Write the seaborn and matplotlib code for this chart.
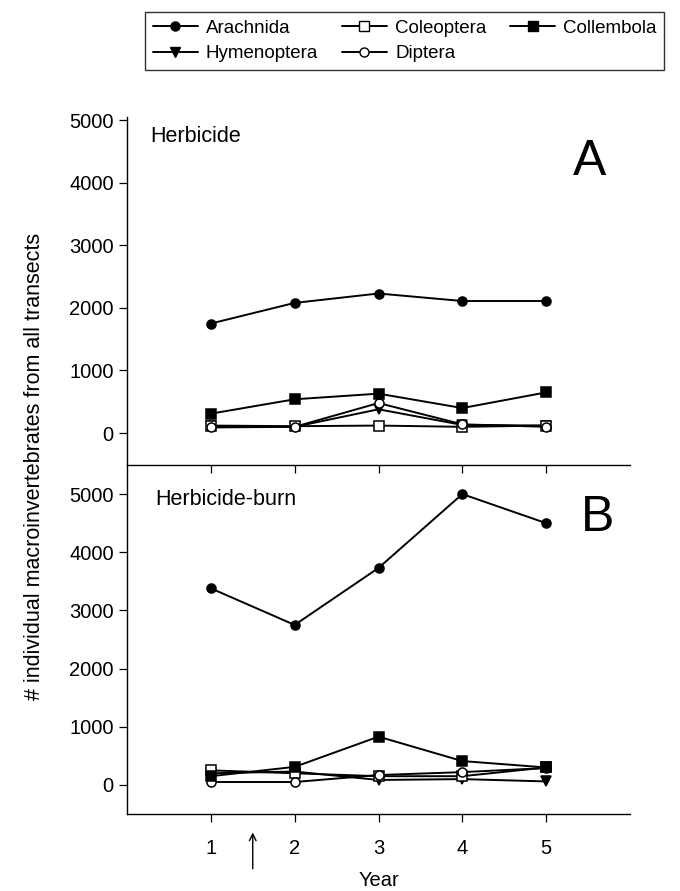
import matplotlib
matplotlib.use("Agg")
import matplotlib.pyplot as plt
import seaborn as sns
import pandas as pd
from matplotlib.lines import Line2D

sns.set_theme(style="ticks")
plt.rcParams['font.family'] = ['Liberation Sans', 'DejaVu Sans']
plt.rcParams.update({"text.color": "black", "axes.labelcolor": "black",
                     "xtick.color": "black", "ytick.color": "black",
                     "axes.edgecolor": "black"})

years = [1, 2, 3, 4, 5]
taxa = ["Arachnida", "Hymenoptera", "Coleoptera", "Diptera", "Collembola"]

# Panel A: Herbicide
herb_arachnida = [1750, 2080, 2230, 2110, 2110]
herb_hymenoptera = [110, 100, 380, 130, 120]
herb_coleoptera = [120, 110, 120, 100, 120]
herb_diptera = [90, 100, 480, 140, 100]
herb_collembola = [310, 540, 630, 400, 650]

# Panel B: Herbicide-burn
burn_arachnida = [3380, 2750, 3730, 5000, 4500]
burn_hymenoptera = [200, 230, 85, 100, 60]
burn_coleoptera = [250, 200, 150, 150, 300]
burn_diptera = [50, 50, 170, 220, 290]
burn_collembola = [150, 310, 830, 410, 300]

panels = {
    "Herbicide": [herb_arachnida, herb_hymenoptera, herb_coleoptera, herb_diptera, herb_collembola],
    "Herbicide-burn": [burn_arachnida, burn_hymenoptera, burn_coleoptera, burn_diptera, burn_collembola],
}

styles = {
    "Arachnida": dict(marker="o", markerfacecolor="black"),
    "Hymenoptera": dict(marker="v", markerfacecolor="black"),
    "Coleoptera": dict(marker="s", markerfacecolor="white"),
    "Diptera": dict(marker="o", markerfacecolor="white"),
    "Collembola": dict(marker="s", markerfacecolor="black"),
}

fig = plt.figure(figsize=(6.8, 8.91), dpi=100)
left, width = 127 / 680, (630 - 127) / 680
axB = fig.add_axes([left, 1 - 814 / 891, width, (814 - 465) / 891])
axA = fig.add_axes([left, 1 - 465 / 891, width, (465 - 117) / 891])
axA.patch.set_visible(False)
axB.patch.set_visible(False)

for ax, (name, series) in zip([axA, axB], panels.items()):
    for taxon, vals in zip(taxa, series):
        df = pd.DataFrame({"Year": years, "Count": vals})
        sns.lineplot(data=df, x="Year", y="Count", ax=ax, color="black", lw=1.4,
                     markersize=6.5, markeredgecolor="black", markeredgewidth=1.1,
                     **styles[taxon])
    ax.set_xlim(0, 6)
    ax.set_xticks(years)
    ax.set_yticks([0, 1000, 2000, 3000, 4000, 5000])
    ax.set_xlabel("")
    ax.set_ylabel("")
    ax.spines["right"].set_visible(False)
    ax.tick_params(direction="out", length=6, width=0.9, colors="black", labelsize=14.5)
    for s in ax.spines.values():
        s.set_color("black")
        s.set_linewidth(1.0)

axA.set_ylim(-510, 5050)
axB.set_ylim(-500, 5500)
axA.spines["top"].set_visible(False)
axB.spines["top"].set_visible(False)
axA.tick_params(axis="x", labelbottom=False)
axB.set_xticklabels([str(y) for y in years], fontsize=14.5)
axB.tick_params(axis="x", pad=12)
axB.set_xlabel("Year", fontsize=14.5, labelpad=9)

axA.text(23 / 503, 1 - (137 - 117) / 348, "Herbicide", transform=axA.transAxes,
         fontsize=15.5, va="center")
axA.text((590 - 127) / 503, 1 - (162 - 117) / 348, "A", transform=axA.transAxes,
         fontsize=36, ha="center", va="center")
axB.text(28 / 503, 1 - (500 - 465) / 349, "Herbicide-burn", transform=axB.transAxes,
         fontsize=15.5, va="center")
axB.text((598 - 127) / 503, 1 - (518 - 465) / 349, "B", transform=axB.transAxes,
         fontsize=36, ha="center", va="center")

fig.text(35 / 680, 1 - 466 / 891, "# individual macroinvertebrates from all transects",
         rotation=90, ha="center", va="center", fontsize=15.5)

# treatment arrow below the axis
axB.annotate("", xy=(1.5, -0.045), xytext=(1.5, -0.165), xycoords=("data", "axes fraction"),
             textcoords=("data", "axes fraction"),
             arrowprops=dict(arrowstyle="->", color="black", lw=1.0), annotation_clip=False)

handles = [Line2D([0], [0], color="black", lw=1.4, markersize=6.5, markeredgecolor="black",
                  **styles[t]) for t in taxa]
leg = fig.legend(handles, taxa, ncol=3, loc="upper left",
                 bbox_to_anchor=(145 / 680, 1 - 12 / 891), frameon=True, fancybox=False,
                 edgecolor="black", fontsize=13.5, handlelength=2.4, columnspacing=1.25,
                 labelspacing=0.45, borderpad=0.4, handletextpad=0.45, borderaxespad=0)
leg.get_frame().set_linewidth(1.0)

fig.savefig("out.png", dpi=100)
